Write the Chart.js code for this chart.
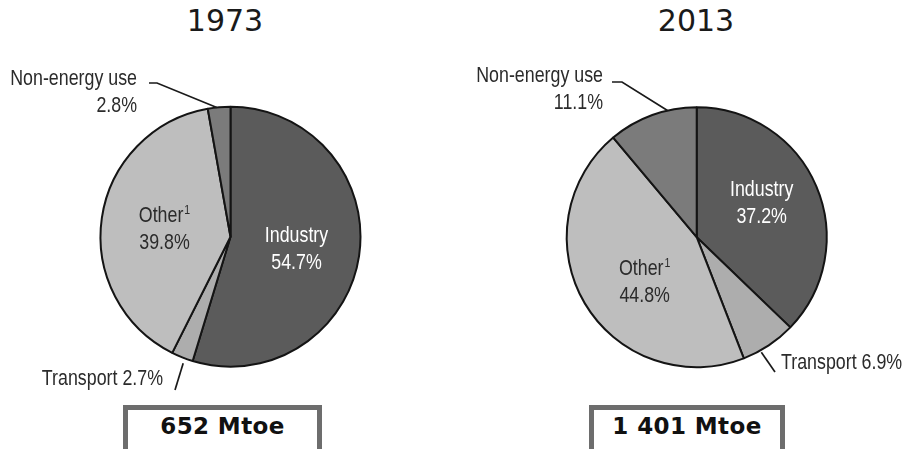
<!DOCTYPE html>
<html>
<head>
<meta charset="utf-8">
<script src="https://cdn.jsdelivr.net/npm/chart.js@4.4.1/dist/chart.umd.min.js"></script>
<style>
  html, body { margin: 0; padding: 0; background: #fff; }
  body { width: 912px; height: 449px; overflow: hidden; position: relative; }
  canvas { position: absolute; left: 0; top: 0; }
  .year {
    position: absolute; top: 6px; width: 200px; text-align: center;
    font: 30px/30px "DejaVu Sans", sans-serif; color: #1a1a1a;
  }
  .total {
    position: absolute; top: 405px; height: 60px; box-sizing: border-box;
    border: 5px solid #6d6d6d; background: #fff; text-align: center;
    padding-top: 5px; font: bold 23px/23px "DejaVu Sans", sans-serif;
    color: #111; letter-spacing: 0.4px;
  }
</style>
</head>
<body>
<div class="year" id="year0" style="left:125px"></div>
<div class="year" id="year1" style="left:596px"></div>
<div class="total" id="total0" style="left:123px; width:199px"></div>
<div class="total" id="total1" style="left:589px; width:196px"></div>
<canvas id="pie1973" width="912" height="449"></canvas>
<canvas id="pie2013" width="912" height="449"></canvas>
<script>
// data
var categories = ['Industry', 'Transport', 'Other', 'Non-energy use'];
var footnotes = ['', '', '1', ''];
var years = ['1973', '2013'];
var shares1973 = [54.7, 2.7, 39.8, 2.8];
var shares2013 = [37.2, 6.9, 44.8, 11.1];
var totals = ['652 Mtoe', '1 401 Mtoe'];

var colors = ['#5b5b5b', '#adadad', '#bebebe', '#7b7b7b'];
var labelFont = '"Liberation Sans", Arial, sans-serif';
var squeeze = 0.81; // the original labels use a condensed face
var textColor = '#2b2b2b';

// where each slice label goes (inside: offset from centre, outside: leader line)
var layout1973 = [
    {inside: true, dx: 66, dy: 5, color: '#fff'},
    {anchor: 0.37, gap: 5, to: [175, 390], tx: 163, ty: 385, align: 'right', oneLine: true},
    {inside: true, dx: -66, dy: -15, color: textColor},
    {anchor: 0.4, gap: 0, to: [157, 83], tail: [149, 83], tx: 137, ty: 85, align: 'right'}
];
var layout2013 = [
    {inside: true, dx: 65, dy: -41, color: '#fff'},
    {anchor: 0.675, gap: 2, to: [775, 372], tx: 781, ty: 369, align: 'left', oneLine: true},
    {inside: true, dx: -52, dy: 38, color: textColor},
    {anchor: 0.675, gap: 0, to: [622, 82], tail: [612, 82], tx: 603, ty: 82, align: 'right'}
];

function fmt(v) {
    return v.toFixed(1) + '%';
}

function narrowText(ctx, text, x, y, align, size) {
    ctx.save();
    ctx.font = size + 'px ' + labelFont;
    ctx.translate(x, y);
    ctx.scale(squeeze, 1);
    ctx.textAlign = align;
    ctx.fillText(text, 0, 0);
    ctx.restore();
}

function narrowWidth(ctx, text, size) {
    ctx.font = size + 'px ' + labelFont;
    return ctx.measureText(text).width * squeeze;
}

// draws "name" plus an optional raised footnote marker
function drawName(ctx, name, note, x, y, align) {
    var w = narrowWidth(ctx, name, 22);
    var nw = note ? narrowWidth(ctx, note, 13) + 1 : 0;
    var total = w + nw;
    var left = align == 'center' ? x - total / 2 : align == 'right' ? x - total : x;
    narrowText(ctx, name, left, y, 'left', 22);
    if (note) {
        narrowText(ctx, note, left + w + 1, y - 8, 'left', 13);
    }
}

var sliceLabels = {
    id: 'sliceLabels',
    afterDatasetsDraw: function(chart, args, opts) {
        var ctx = chart.ctx;
        var meta = chart.getDatasetMeta(0);
        var values = chart.data.datasets[0].data;
        ctx.save();
        ctx.textBaseline = 'alphabetic';
        meta.data.forEach(function(arc, i) {
            var p = arc.getProps(['x', 'y', 'startAngle', 'endAngle', 'outerRadius'], true);
            var cfg = opts.layout[i];
            var name = chart.data.labels[i];
            if (cfg.inside) {
                ctx.fillStyle = cfg.color;
                drawName(ctx, name, footnotes[i], p.x + cfg.dx, p.y + cfg.dy, 'center');
                narrowText(ctx, fmt(values[i]), p.x + cfg.dx, p.y + cfg.dy + 27, 'center', 22);
                return;
            }
            // leader line from the rim of the slice
            var a = p.startAngle + (p.endAngle - p.startAngle) * cfg.anchor;
            var r = p.outerRadius + cfg.gap;
            ctx.strokeStyle = '#1a1a1a';
            ctx.lineWidth = 1.7;
            ctx.beginPath();
            ctx.moveTo(p.x + Math.cos(a) * r, p.y + Math.sin(a) * r);
            ctx.lineTo(cfg.to[0], cfg.to[1]);
            if (cfg.tail) {
                ctx.lineTo(cfg.tail[0], cfg.tail[1]);
            }
            ctx.stroke();

            ctx.fillStyle = textColor;
            if (cfg.oneLine) {
                narrowText(ctx, name + ' ' + fmt(values[i]), cfg.tx, cfg.ty, cfg.align, 22);
            } else {
                narrowText(ctx, name, cfg.tx, cfg.ty, cfg.align, 22);
                narrowText(ctx, fmt(values[i]), cfg.tx, cfg.ty + 27, cfg.align, 22);
            }
        });
        ctx.restore();
    }
};

function makePie(id, values, layout, padding) {
    return new Chart(document.getElementById(id), {
        type: 'pie',
        data: {
            labels: categories,
            datasets: [{
                data: values,
                backgroundColor: colors,
                borderColor: '#141414',
                borderWidth: 2
            }]
        },
        options: {
            responsive: false,
            animation: false,
            layout: {padding: padding},
            plugins: {
                legend: {display: false},
                tooltip: {enabled: false},
                sliceLabels: {layout: layout}
            }
        },
        plugins: [sliceLabels]
    });
}

for (var k = 0; k < years.length; k++) {
    document.getElementById('year' + k).textContent = years[k];
    document.getElementById('total' + k).textContent = totals[k];
}

makePie('pie1973', shares1973, layout1973, {left: 99.5, right: 550.5, top: 105.7, bottom: 81.3});
makePie('pie2013', shares2013, layout2013, {left: 565.7, right: 84.3, top: 106.2, bottom: 80.8});
</script>
</body>
</html>
